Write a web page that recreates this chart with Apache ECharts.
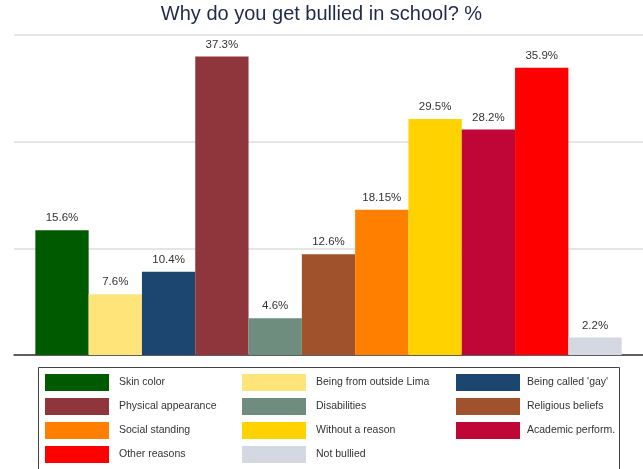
<!DOCTYPE html>
<html>
<head>
<meta charset="utf-8">
<script src="https://cdn.jsdelivr.net/npm/echarts@6/dist/echarts.min.js"></script>
<style>
  html, body { margin: 0; padding: 0; background: #fff; }
  #chart { width: 643px; height: 469px; }
</style>
</head>
<body>
<div id="chart"></div>
<script>
// data
const reasons = [
  'Skin color', 'Being from outside Lima', "Being called 'gay'",
  'Physical appearance', 'Disabilities', 'Religious beliefs',
  'Social standing', 'Without a reason', 'Academic perform.',
  'Other reasons', 'Not bullied'
]
const percents = [15.6, 7.6, 10.4, 37.3, 4.6, 12.6, 18.15, 29.5, 28.2, 35.9, 2.2]
const colors = [
  '#005a00', '#ffe47a', '#1c466f',
  '#8f353c', '#6e8d7f', '#a0522d',
  '#ff7f00', '#ffd200', '#c00637',
  '#ff0000', '#d3d8e2'
]

const chart = echarts.init(document.getElementById('chart'))

// one bar per series so the bars sit side by side in one group
const series = reasons.map((name, i) => ({
  name: name,
  type: 'bar',
  data: [percents[i]],
  barWidth: 53.3,
  barGap: '0%',
  itemStyle: { color: colors[i] },
  label: {
    show: true,
    position: 'top',
    distance: 6,
    formatter: p => p.value + '%',
    fontFamily: 'Liberation Sans',
    fontSize: 11.5,
    color: '#333'
  }
}))

// legend in 3 columns, row by row
const col = k => reasons.filter((_, i) => i % 3 === k)
const legendBase = {
  orient: 'vertical',
  top: 374,
  height: 95,
  padding: 0,
  icon: 'rect',
  itemWidth: 64,
  itemHeight: 17,
  itemGap: 7,
  selectedMode: false,
  textStyle: {
    fontFamily: 'Liberation Sans',
    fontSize: 10.5,
    color: '#333',
    padding: [0, 0, 0, 5]
  }
}

const option = {
  animation: false,
  backgroundColor: '#fff',
  title: {
    text: 'Why do you get bullied in school? %',
    left: 'center',
    top: 4,
    padding: 0,
    textStyle: {
      fontFamily: 'Liberation Sans',
      fontSize: 20,
      fontWeight: 'normal',
      color: '#1e2a4a'
    }
  },
  legend: [
    Object.assign({}, legendBase, { left: 45, data: col(0) }),
    Object.assign({}, legendBase, { left: 242, data: col(1) }),
    Object.assign({}, legendBase, { left: 456, data: col(2), textStyle: Object.assign({}, legendBase.textStyle, { padding: [0, 0, 0, 2] }) })
  ],
  graphic: [
    {
      type: 'rect',
      shape: { x: 38.5, y: 367.5, width: 581, height: 110 },
      style: { fill: 'none', stroke: '#444', lineWidth: 1 },
      silent: true
    }
  ],
  grid: {
    left: 14,
    right: 0,
    top: 35,
    bottom: 114
  },
  xAxis: {
    type: 'category',
    data: [''],
    axisLine: { show: true, lineStyle: { color: '#333', width: 1.5 } },
    axisTick: { show: false },
    axisLabel: { show: false }
  },
  yAxis: {
    type: 'value',
    min: 0,
    max: 40,
    interval: 40 / 3,
    axisLine: { show: false },
    axisTick: { show: false },
    axisLabel: { show: false },
    splitLine: { lineStyle: { color: '#dcdcdc', width: 1.5 } }
  },
  series: series
}

chart.setOption(option)
</script>
</body>
</html>
